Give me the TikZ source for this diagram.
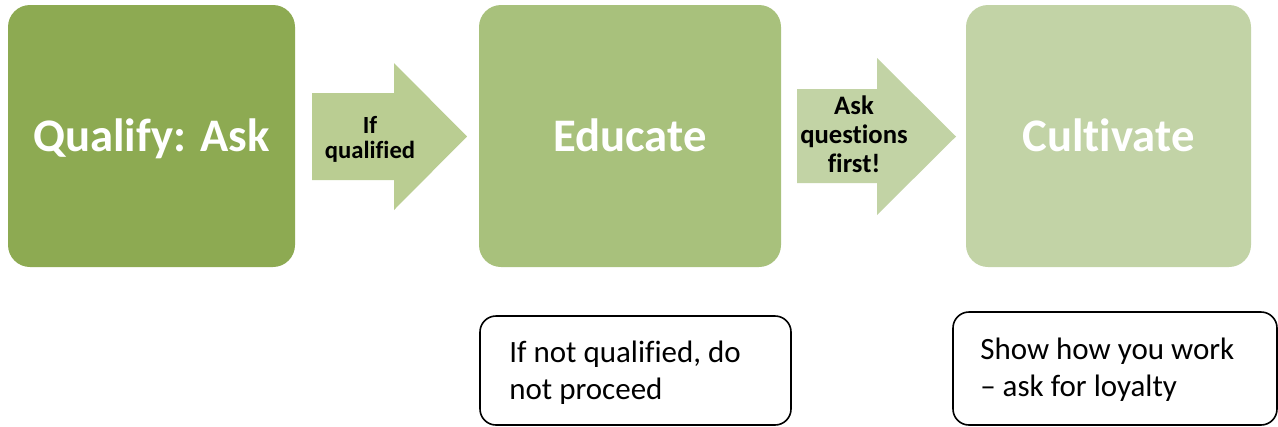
\documentclass[tikz,border=0pt]{standalone}
\usepackage{fontspec}
\setmainfont{Carlito}[Ligatures=NoCommon]
\definecolor{gA}{RGB}{141,170,82}
\definecolor{gB}{RGB}{168,193,124}
\definecolor{gC}{RGB}{194,211,166}
\definecolor{arA}{RGB}{186,205,146}
\definecolor{arB}{RGB}{194,211,165}
\tikzset{
  stage/.style={rounded corners=16.5pt, inner sep=0pt, outer sep=0pt,
    minimum height=196.5pt, text=white,
    font=\bfseries\fontsize{35}{40}\selectfont, text height=22.5pt, text depth=0pt},
  arrowlabel/.style={inner sep=0pt, align=center, anchor=base, text=black},
  notebox/.style={draw=black, line width=1.2pt, rounded corners=12pt, inner sep=0pt,
    outer sep=0pt},
  notetext/.style={inner sep=0pt, align=left, anchor=base west,
    font=\fontsize{23.25}{27.75}\selectfont}
}
\begin{document}
\begin{tikzpicture}[x=0.75pt,y=-0.75pt]
\useasboundingbox (0,0) rectangle (1278,426);
% stages
\node[stage, fill=gA, minimum width=215.25pt] (s1) at (151.5,136) {Qualify: Ask};
\node[stage, fill=gB, minimum width=226.5pt] (s2) at (630,136) {Educate};
\node[stage, fill=gC, minimum width=213.75pt] (s3) at (1108.5,136) {Cultivate};
% arrows
\fill[arA] (312,93) -- (394,93) -- (394,63) -- (467,136.5) -- (394,210) -- (394,180) -- (312,180) -- cycle;
\node[arrowlabel, font=\bfseries\fontsize{18.5}{18.75}\selectfont] (a1) at (370,158) {If\\qualified};
\fill[arB] (797,89) -- (877,89) -- (877,58) -- (956,136.5) -- (877,215) -- (877,183) -- (797,183) -- cycle;
\node[arrowlabel, font=\bfseries\fontsize{20}{21.4}\selectfont] (a2) at (854,172) {Ask\\questions\\first!};
% notes
\node[notebox, minimum width=233.25pt, minimum height=81.75pt] (n1) at (635.5,370.5) {};
\node[notetext] (n1t) at (509,399) {If not qualified, do\\not proceed};
\node[notebox, minimum width=243pt, minimum height=84.75pt] (n2) at (1115,368.5) {};
\node[notetext] (n2t) at (980,396) {Show how you work\\– ask for loyalty};
\end{tikzpicture}
\end{document}
